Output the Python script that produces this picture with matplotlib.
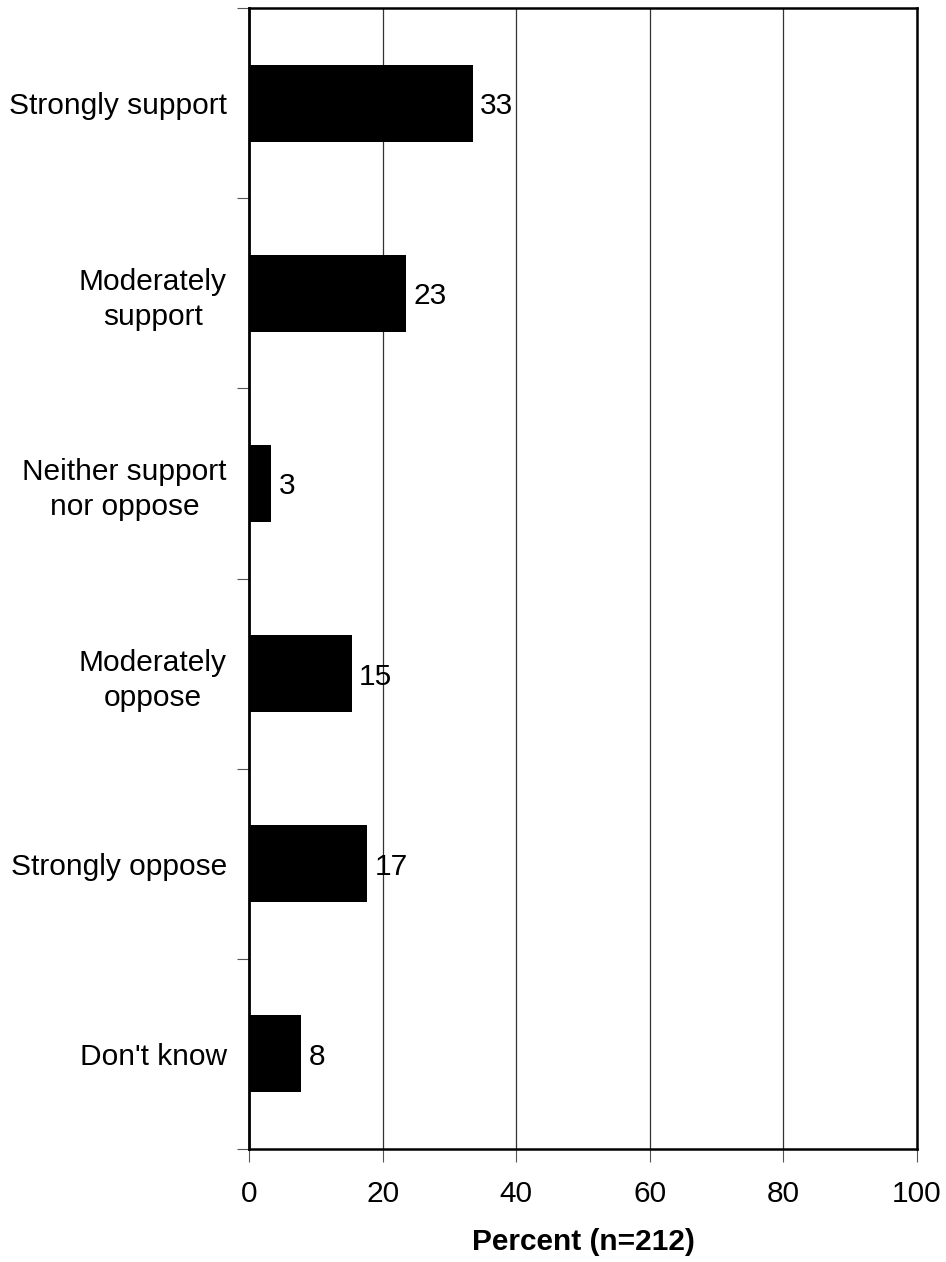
import numpy as np
import matplotlib.pyplot as plt

plt.rcParams['font.family'] = ['Liberation Sans', 'DejaVu Sans']

categories = ['Strongly support', 'Moderately\nsupport', 'Neither support\nnor oppose',
              'Moderately\noppose', 'Strongly oppose', "Don't know"]
percent = [33.5, 23.5, 3.3, 15.4, 17.7, 7.8]
labels = ['33', '23', '3', '15', '17', '8']
xticks = [0, 20, 40, 60, 80, 100]

fig = plt.figure(figsize=(9.46, 12.62), dpi=100)
ax = fig.add_axes([0.2632, 0.0895, 0.7061, 0.9042])

y = np.arange(len(categories))
ax.barh(y, percent, height=0.405, color='black', zorder=3)
for yi, v, lab in zip(y, percent, labels):
    ax.text(v + 1.1, yi, lab, va='center_baseline', ha='left', fontsize=21.5, zorder=4)

ax.set_xlim(0, 100)
ax.set_ylim(len(categories) - 0.5, -0.5)

ax.set_xticks(xticks)
ax.set_xticklabels([str(t) for t in xticks], fontsize=21.5)
ax.tick_params(axis='x', length=9, width=0.8, color='#555555', pad=13)

ax.set_yticks(y)
ax.set_yticklabels(categories, fontsize=21.5, multialignment='center', linespacing=1.32)
ax.set_yticks(np.arange(len(categories) + 1) - 0.5, minor=True)
ax.tick_params(axis='y', which='major', length=0, pad=16)
ax.tick_params(axis='y', which='minor', length=9, width=0.8, color='#555555')

ax.xaxis.grid(True, color='#333333', linewidth=0.9, zorder=0)
ax.set_axisbelow(True)

ax.spines['left'].set_linewidth(2)
for s in ['top', 'right', 'bottom']:
    ax.spines[s].set_linewidth(1.8)

ax.set_xlabel('Percent (n=212)', fontsize=21.5, fontweight='bold', labelpad=15)

fig.savefig('out.png', dpi=100)
